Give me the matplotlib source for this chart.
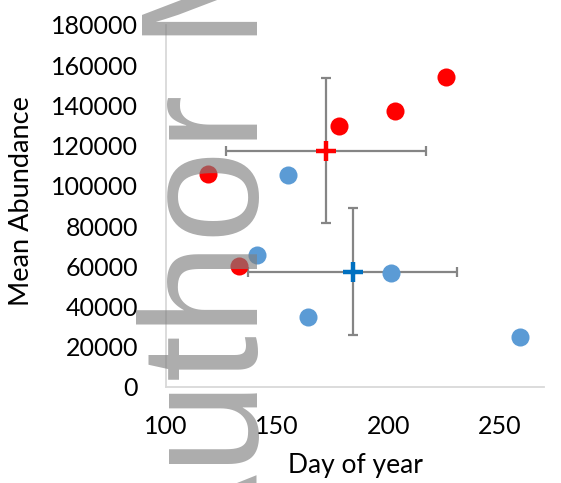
import matplotlib.pyplot as plt

# data
red_day = [119, 133, 178, 203, 226]
red_abund = [106000, 60000, 130000, 137000, 154000]
blue_day = [141, 155, 164, 201, 259]
blue_abund = [65600, 105400, 34700, 56500, 25000]

red_mean = (171.8, 117400)
red_sd = (45, 36000)
blue_mean = (184, 57400)
blue_sd = (47, 31400)

x_ticks = [100, 150, 200, 250]
y_ticks = [0, 20000, 40000, 60000, 80000, 100000, 120000, 140000, 160000, 180000]

plt.rcParams["font.family"] = ["Lato", "DejaVu Sans"]

dpi = 100
fig = plt.figure(figsize=(561 / dpi, 483 / dpi), dpi=dpi)
ax = fig.add_axes([166 / 561, 1 - 387 / 483, 378 / 561, 362 / 483])

# mean +/- sd error bars
ax.errorbar(red_mean[0], red_mean[1], xerr=red_sd[0], yerr=red_sd[1],
            fmt="none", ecolor="#858585", elinewidth=1.6, capsize=3.6,
            capthick=1.6, zorder=2)
ax.errorbar(blue_mean[0], blue_mean[1], xerr=blue_sd[0], yerr=blue_sd[1],
            fmt="none", ecolor="#858585", elinewidth=1.6, capsize=3.6,
            capthick=1.6, zorder=2)

ax.scatter(red_day, red_abund, s=13 ** 2, color="#ff0000", lw=0, zorder=3)
ax.scatter(blue_day, blue_abund, s=13 ** 2, color="#5b9bd5", lw=0, zorder=3)

ax.plot(red_mean[0], red_mean[1], marker="+", ms=15, mew=3.2,
        color="#ff0000", zorder=4)
ax.plot(blue_mean[0], blue_mean[1], marker="+", ms=15, mew=3.2,
        color="#0070c0", zorder=4)

ax.set_xlim(100, 270)
ax.set_ylim(0, 180000)
ax.set_xticks(x_ticks)
ax.set_yticks(y_ticks)
ax.tick_params(length=0, labelsize=18, colors="black")
ax.tick_params(axis="y", pad=20)
ax.tick_params(axis="x", pad=20)

for side in ["top", "right"]:
    ax.spines[side].set_visible(False)
for side in ["left", "bottom"]:
    ax.spines[side].set_color("#d9d9d9")
    ax.spines[side].set_linewidth(1.3)

fig.text(355 / 561, 1 - 465 / 483, "Day of year", fontsize=19,
         ha="center", va="center")
fig.text(22 / 561, 1 - 201 / 483, "Mean Abundance", fontsize=19.5,
         ha="center", va="center", rotation=90)

# watermark overlay
fig.text(258 / 561, 1 - 585 / 483, "Author Manuscript", fontsize=120,
         family="Liberation Sans", color="#808080", alpha=0.65,
         rotation=90, rotation_mode="anchor", ha="left", va="baseline",
         zorder=10)

fig.savefig("out.png", dpi=dpi)
